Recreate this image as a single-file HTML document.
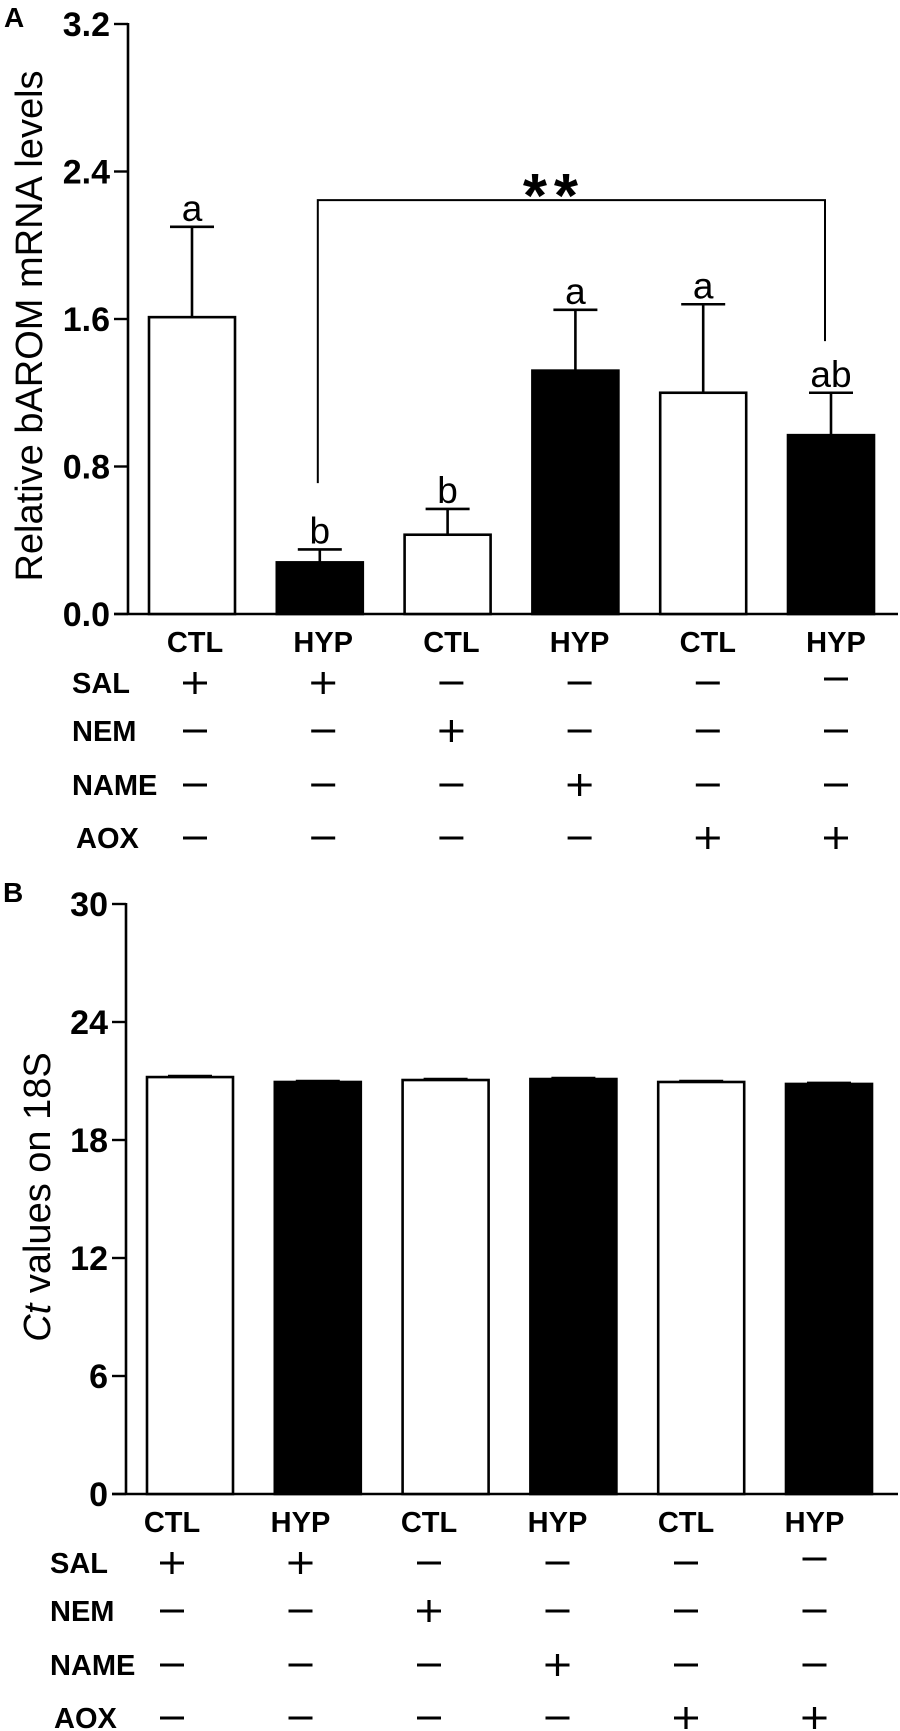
<!DOCTYPE html>
<html><head><meta charset="utf-8"><style>
html,body{margin:0;padding:0;background:#fff;width:900px;height:1731px;overflow:hidden}
svg{display:block}
text{font-family:"Liberation Sans",Arial,sans-serif;fill:#000}
.b{font-weight:bold}
</style></head><body>
<svg id="fig" width="900" height="1731" viewBox="0 0 900 1731" xmlns="http://www.w3.org/2000/svg">
<text class="b" x="4" y="27" font-size="28">A</text>
<text class="b" x="3" y="902" font-size="28">B</text>
<g id="gA"></g>
<g id="gB"></g>
</svg>
<script>
const groups = ["CTL","HYP","CTL","HYP","CTL","HYP"];
const fills = ["white","black","white","black","white","black"];
const valuesA = [1.61, 0.28, 0.43, 1.32, 1.20, 0.97];
const errA = [0.49, 0.07, 0.14, 0.33, 0.48, 0.23];
const lettersA = ["a","b","b","a","a","ab"];
const ticksA = [0.0, 0.8, 1.6, 2.4, 3.2];
const tickLabelsA = ["0.0","0.8","1.6","2.4","3.2"];
const valuesB = [21.2, 20.95, 21.05, 21.1, 20.95, 20.85];
const errB = [0.05, 0.05, 0.05, 0.05, 0.05, 0.05];
const ticksB = [0, 6, 12, 18, 24, 30];
const tickLabelsB = ["0","6","12","18","24","30"];
const rowNames = ["SAL","NEM","NAME","AOX"];
const treatSAL = [1,1,0,0,0,0];
const treatNEM = [0,0,1,0,0,0];
const treatNAME = [0,0,0,1,0,0];
const treatAOX = [0,0,0,0,1,1];
const bracketA = {from:1, to:5, level:2.245, leftEnd:0.71, rightEnd:1.48};

const NS="http://www.w3.org/2000/svg";
function mk(parent, tag, attrs){const e=document.createElementNS(NS,tag);for(const k in attrs)e.setAttribute(k,attrs[k]);parent.appendChild(e);return e;}

function panel(g, cfg){
  const y = v => cfg.y0 - (v - cfg.vmin)/(cfg.vmax-cfg.vmin)*(cfg.y0-cfg.y1);
  const xc = i => cfg.x0 + i*127.8;
  let ax = mk(g,'line',{x1:cfg.ax,y1:cfg.y1-1,x2:cfg.ax,y2:cfg.y0,stroke:'#000','stroke-width':2.6});
  
  
  let bx = mk(g,'line',{x1:cfg.ax-14,y1:cfg.y0,x2:898,y2:cfg.y0,stroke:'#000','stroke-width':2.6});
  
  
  cfg.ticks.forEach((t,i)=>{
    let tl = mk(g,'line',{x1:cfg.ax-14,y1:y(t),x2:cfg.ax,y2:y(t),stroke:'#000','stroke-width':2.4});
    
    
    let tx = mk(g,'text',{x:cfg.ax-18,y:y(t)+12,'text-anchor':'end','font-size':34,'class':'b'});
    tx.textContent = cfg.tickLabels[i];
    
    
  });
  let tt = mk(g,'text',{x:0,y:0,'text-anchor':'middle','font-size':38,transform:`translate(${cfg.tx},${cfg.ty}) rotate(-90)`});
  tt.innerHTML = cfg.title;
  
  
  cfg.values.forEach((v,i)=>{
    const c = xc(i), w = 86;
    const top = y(v), et = y(v + cfg.err[i]);
    let el = mk(g,'line',{x1:c,y1:top,x2:c,y2:et,stroke:'#000','stroke-width':2.6});
    
    
    let cap = mk(g,'line',{x1:c-22,y1:et,x2:c+22,y2:et,stroke:'#000','stroke-width':2.6});
    
    
    let r = mk(g,'rect',{x:c-w/2,y:top,width:w,height:cfg.y0-top,fill:fills[i],stroke:'#000','stroke-width':2.6});
    
    
    if(cfg.letters){
      let lt = mk(g,'text',{x:c,y:et-6,'text-anchor':'middle','font-size':37});
      lt.textContent = cfg.letters[i];
      
      
    }
    let cl = mk(g,'text',{x:cfg.lx(i),y:cfg.y0+38,'text-anchor':'middle','font-size':29,'class':'b'});
    cl.textContent = groups[i];
    
    
  });
  const rows=[treatSAL,treatNEM,treatNAME,treatAOX];
  const offs=[69,117,171,224];
  rows.forEach((row,r)=>{
    const ry = cfg.y0+offs[r];
    let rl = mk(g,'text',{x:cfg.rowX+(r==3?4:0),y:ry+10,'font-size':29,'class':'b'});
    rl.textContent = rowNames[r];
    
    
    row.forEach((on,i)=>{
      const mx = cfg.lx(i), my = ry - ((r==0&&i==5)?4:0);
      let m = mk(g,'g',{});
      
      
      mk(m,'line',{x1:mx-12,y1:my,x2:mx+12,y2:my,stroke:'#000','stroke-width':3});
      if(on) mk(m,'line',{x1:mx,y1:my-11,x2:mx,y2:my+11,stroke:'#000','stroke-width':3.2});
    });
  });
  return {y, xc};
}

const A = panel(document.getElementById('gA'),{
  ax:128,y0:614,y1:24,vmin:0,vmax:3.2,x0:192,ticks:ticksA,tickLabels:tickLabelsA,
  values:valuesA,err:errA,letters:lettersA,title:'Relative bAROM mRNA levels',tx:42,ty:326,
  lx:i=>195+i*128.2,rowX:72});
const B = panel(document.getElementById('gB'),{
  ax:126,y0:1494,y1:904,vmin:0,vmax:30,x0:190,ticks:ticksB,tickLabels:tickLabelsB,
  values:valuesB,err:errB,letters:null,title:'<tspan font-style="italic">Ct</tspan> values on 18S',tx:50,ty:1197,
  lx:i=>172+i*128.5,rowX:50});

const gA=document.getElementById('gA');
const bl=A.xc(bracketA.from)-2, br=A.xc(bracketA.to)-6, by=A.y(bracketA.level);
let br1 = mk(gA,'polyline',{points:`${bl},${A.y(bracketA.leftEnd)} ${bl},${by} ${br},${by} ${br},${A.y(bracketA.rightEnd)}`,fill:'none',stroke:'#000','stroke-width':2});


[535,566].forEach(x=>{
  let s = mk(gA,'text',{x:x,y:by+17,'text-anchor':'middle','font-size':62,'class':'b'});
  s.textContent='*';
  
  
});
</script>
</body></html>
